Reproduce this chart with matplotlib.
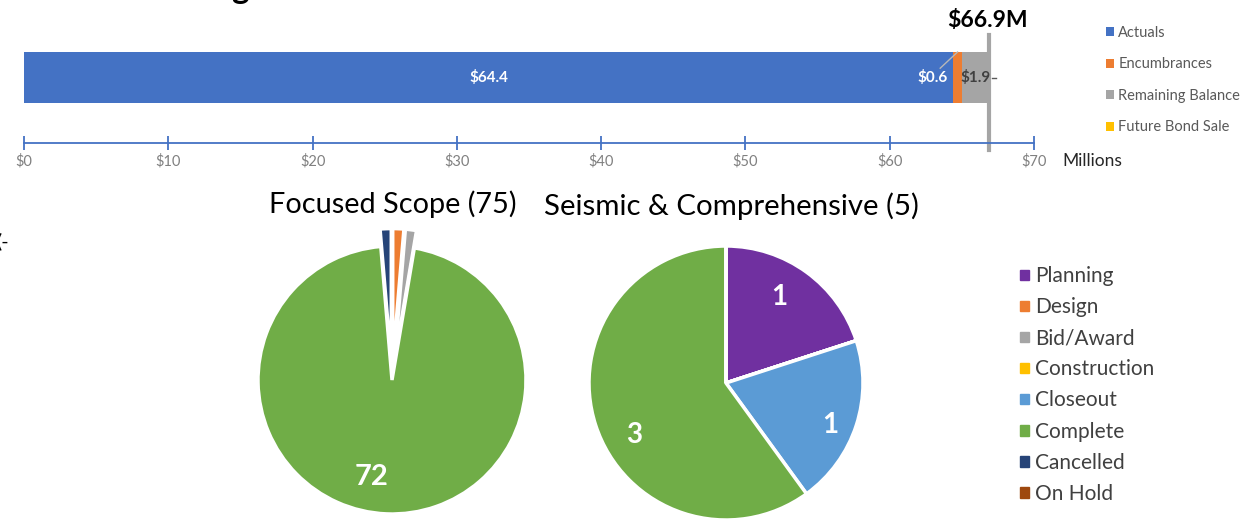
import math

import matplotlib.pyplot as plt
from matplotlib.patches import Patch

plt.rcParams['font.family'] = ['Lato', 'DejaVu Sans']

# budget bar (millions)
budget_names = ['Actuals', 'Encumbrances', 'Remaining Balance', 'Future Bond Sale']
budget_values = [64.4, 0.6, 1.9, 0.0]
budget_colors = ['#4472C4', '#ED7D31', '#A5A5A5', '#FFC000']
budget_total = 66.9
x_ticks = [0, 10, 20, 30, 40, 50, 60, 70]
x_tick_labels = ['$0', '$10', '$20', '$30', '$40', '$50', '$60', '$70']

# project phases
phases = ['Planning', 'Design', 'Bid/Award', 'Construction', 'Closeout',
          'Complete', 'Cancelled', 'On Hold']
phase_colors = ['#7030A0', '#ED7D31', '#A5A5A5', '#FFC000', '#5B9BD5',
                '#70AD47', '#264478', '#9E480E']
focused_counts = [0, 1, 1, 0, 0, 72, 1, 0]
seismic_counts = [1, 0, 0, 0, 1, 3, 0, 0]

W, H = 1260, 519
fig = plt.figure(figsize=(W / 100, H / 100), dpi=100)


def px_box(x0, y0, x1, y1):
    # pixel box (top-left origin) -> figure fraction rect
    return [x0 / W, 1 - y1 / H, (x1 - x0) / W, (y1 - y0) / H]


# ---------- stacked bar ----------
ax = fig.add_axes(px_box(24, 33, 1034, 143))
left = 0
bars = []
for name, val, col in zip(budget_names, budget_values, budget_colors):
    b = ax.barh(0.595, val, left=left, height=0.464, color=col, label=name)
    bars.append(b)
    left += val
ax.set_xlim(0, 70)
ax.set_ylim(0, 1)
ax.set_xticks(x_ticks)
ax.set_xticklabels(x_tick_labels)
ax.set_yticks([])
for s in ['top', 'right', 'left']:
    ax.spines[s].set_visible(False)
ax.spines['bottom'].set_color('#4472C4')
ax.spines['bottom'].set_linewidth(1.3)
ax.tick_params(axis='x', direction='inout', length=10, width=1.3,
               color='#4472C4', labelcolor='#808080', labelsize=10.5, pad=3)

ax.text(budget_values[0] / 2, 0.595, '$64.4', color='white', fontsize=11,
        fontweight='bold', ha='center', va='center')
ax.text(budget_values[0] - 0.4, 0.595, '$0.6', color='white', fontsize=11,
        fontweight='bold', ha='right', va='center')
ax.plot([63.5, 64.7], [0.68, 0.827], color='#B8B8B8', lw=1)
ax.text(sum(budget_values[:2]) + budget_values[2] / 2, 0.595, '$1.9',
        color='#404040', fontsize=11, fontweight='bold', ha='center', va='center')
ax.plot([67.1, 67.35], [0.595, 0.595], color='#595959', lw=1)
ax.axvline(budget_total, ymin=-0.06, ymax=0.98, color='#A5A5A5', lw=3, clip_on=False)
ax.text(budget_total - 0.1, 1.02, '$66.9M', fontsize=16.5, fontweight='bold',
        ha='center', va='bottom', color='black')
fig.text(1062 / W, 1 - 161 / H, 'Millions', fontsize=12.5, color='#262626',
         va='center', ha='left')

fig.legend(handles=[b for b in bars], labels=budget_names, loc='upper left',
           bbox_to_anchor=(1100 / W, 1 - 20 / H), frameon=False, fontsize=10.5,
           labelcolor='#595959', handlelength=0.55, handleheight=0.55,
           handletextpad=0.3, labelspacing=1.2, borderaxespad=0)


# ---------- pies ----------
def pie_axes(cx, cy, r, half=160):
    a = fig.add_axes(px_box(cx - half, cy - half, cx + half, cy + half))
    a.set_aspect('equal')
    a.axis('off')
    return a


def set_lims(a, r, half=160):
    a.set_xlim(-half / r, half / r)
    a.set_ylim(-half / r, half / r)


def place(txt, r, ang):
    # ang: degrees clockwise from 12 o'clock
    t = math.radians(ang)
    txt.set_position((r * math.sin(t), r * math.cos(t)))


ax1 = pie_axes(392, 380, 134)
explode1 = [0.13 if v < 5 else 0.0 for v in focused_counts]
_, _, at1 = ax1.pie(
    focused_counts, colors=phase_colors, startangle=90, counterclock=False,
    explode=explode1, radius=1,
    autopct=lambda p: f'{round(p * sum(focused_counts) / 100)}' if p > 10 else '',
    pctdistance=0.74,
    wedgeprops=dict(edgecolor='white', linewidth=2.5),
    textprops=dict(color='white', fontsize=21, fontweight='bold'))
set_lims(ax1, 134)
place(at1[5], 0.74, 191.8)
fig.text(393 / W, 1 - 204 / H, 'Focused Scope (75)', fontsize=20.8,
         ha='center', va='center', color='black')

ax2 = pie_axes(726, 383, 137)
_, _, at2 = ax2.pie(
    seismic_counts, colors=phase_colors, startangle=90, counterclock=False,
    radius=1,
    autopct=lambda p: f'{round(p * sum(seismic_counts) / 100)}' if p > 0 else '',
    pctdistance=0.78,
    wedgeprops=dict(edgecolor='white', linewidth=2.5),
    textprops=dict(color='white', fontsize=20, fontweight='bold'))
set_lims(ax2, 137)
place(at2[0], 0.74, 32)
place(at2[4], 0.82, 112)
place(at2[5], 0.77, 240.5)
fig.text(731 / W, 1 - 206 / H, 'Seismic & Comprehensive (5)', fontsize=21.2,
         ha='center', va='center', color='black')

handles = [Patch(color=c, label=p) for p, c in zip(phases, phase_colors)]
fig.legend(handles=handles, loc='upper left', bbox_to_anchor=(1012 / W, 1 - 258 / H),
           frameon=False, fontsize=15, labelcolor='#404040', handlelength=0.42,
           handleheight=0.42, handletextpad=0.3, labelspacing=0.53, borderaxespad=0)

# cropped fragments of surrounding slide
fig.text(240 / W, 1 + 1 / H, 'g', fontsize=24, fontweight='bold', ha='center',
         va='baseline', color='black')
fig.text(-4 / W, 1 - 241 / H, '(-', fontsize=14, ha='left', va='center', color='black')

fig.savefig('out.png', dpi=100)
